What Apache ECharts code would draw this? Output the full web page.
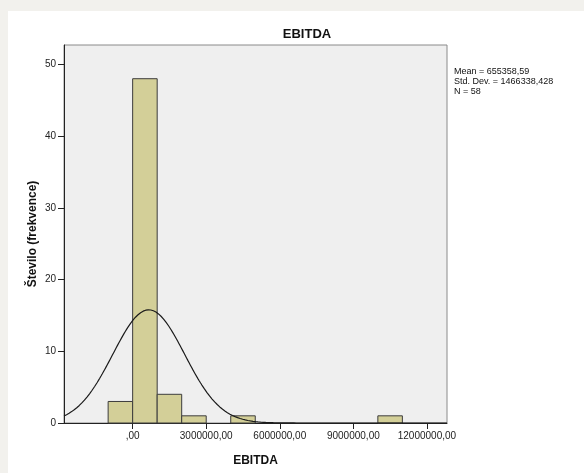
<!DOCTYPE html>
<html><head><meta charset="utf-8">
<script src="https://cdn.jsdelivr.net/npm/echarts@6/dist/echarts.min.js"></script>
<style>html,body{margin:0;padding:0;background:#f2f1ed;}#wrap{position:absolute;left:8px;top:11px;width:576px;height:462px;background:#fff;}#c{position:absolute;left:0;top:0;width:584px;height:473px;}</style>
</head><body><div id="wrap"></div><div id="c"></div>
<script>
// Histogram bins (lower edge, upper edge) and counts
const binStarts = [-1000000, 0, 1000000, 2000000, 4000000, 10000000];
const binEnds   = [0, 1000000, 2000000, 3000000, 5000000, 11000000];
const counts    = [3, 48, 4, 1, 1, 1];
const xTicks = [0, 3000000, 6000000, 9000000, 12000000];
const yTicks = [0, 10, 20, 30, 40, 50];
const meanVal = 655358.59;
const sdVal = 1466338.428;
const nVal = 58;
const binWidth = 1000000;
const statsLines = ['Mean = 655358,59', 'Std. Dev. = 1466338,428', 'N = 58'];

const xMin = -2800000, xMax = 12820000;
// Normal curve implied by the displayed mean / sd / N
const curve = [];
for (let i = 0; i <= 300; i++) {
  const x = xMin + (xMax - xMin) * i / 300;
  const z = (x - meanVal) / sdVal;
  curve.push([x, nVal * binWidth / (sdVal * Math.sqrt(2 * Math.PI)) * Math.exp(-0.5 * z * z)]);
}
const bars = binStarts.map((s, i) => [s, binEnds[i], counts[i]]);

const chart = echarts.init(document.getElementById('c'), null, {renderer: 'canvas'});
const font = '"Liberation Sans", Arial, sans-serif';
chart.setOption({
  backgroundColor: 'transparent',
  animation: false,
  title: {
    text: 'EBITDA', left: 302, top: 23, textAlign: 'center',
    textStyle: {fontFamily: font, fontSize: 13, fontWeight: 'bold', color: '#111'}
  },
  grid: {
    left: 64, top: 45, right: 137, bottom: 50, show: true,
    backgroundColor: '#efefef', borderColor: '#8a8a8a', borderWidth: 1
  },
  graphic: [{
    type: 'text', left: 454, top: 67,
    style: {text: statsLines.join('\n'), font: '9px ' + font, fill: '#111', lineHeight: 10}
  }],
  xAxis: {
    type: 'value', min: xMin, max: xMax,
    name: 'EBITDA', nameLocation: 'middle', nameGap: 32,
    nameTextStyle: {fontFamily: font, fontSize: 12, fontWeight: 'bold', color: '#111'},
    axisLine: {show: true, onZero: false, lineStyle: {color: '#222', width: 1}},
    axisTick: {show: true, length: 6, customValues: xTicks, lineStyle: {color: '#222'}},
    axisLabel: {
      customValues: xTicks, margin: 8, fontFamily: font, fontSize: 10, color: '#222',
      formatter: v => v === 0 ? ',00' : String(Math.round(v)) + ',00'
    },
    splitLine: {show: false}
  },
  yAxis: {
    type: 'value', min: 0, max: 52.7,
    name: 'Število (frekvence)', nameLocation: 'middle', nameGap: 25, nameRotate: 90,
    nameMoveOverlap: false,
    nameTextStyle: {fontFamily: font, fontSize: 12, fontWeight: 'bold', color: '#111'},
    axisLine: {show: true, onZero: false, lineStyle: {color: '#222', width: 1}},
    axisTick: {show: true, length: 6, customValues: yTicks, lineStyle: {color: '#222'}},
    axisLabel: {customValues: yTicks, margin: 8, fontFamily: font, fontSize: 10, color: '#222'},
    splitLine: {show: false}
  },
  series: [{
    type: 'custom',
    data: bars,
    renderItem: function (params, api) {
      const p0 = api.coord([api.value(0), 0]);
      const p1 = api.coord([api.value(1), api.value(2)]);
      return {
        type: 'rect',
        shape: {x: p0[0], y: p1[1], width: p1[0] - p0[0], height: p0[1] - p1[1]},
        style: {fill: '#d3cf98', stroke: '#3c3c3c', lineWidth: 1}
      };
    },
    z: 2
  }, {
    type: 'line', data: curve, showSymbol: false, symbol: 'none', smooth: false,
    lineStyle: {color: '#1a1a1a', width: 1.2}, z: 3
  }]
});
</script>
</body></html>
